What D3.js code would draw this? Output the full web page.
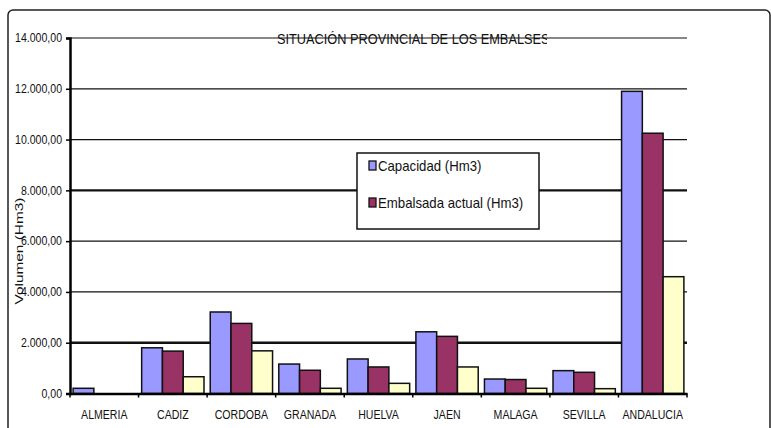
<!DOCTYPE html>
<html>
<head>
<meta charset="utf-8">
<script src="https://cdn.jsdelivr.net/npm/d3@7"></script>
<style>
  body { margin: 0; background: #fff; }
  text { font-family: "Liberation Sans", Arial, sans-serif; fill: #111; }
</style>
</head>
<body>
<script>
// data
var provincias = ["ALMERIA", "CADIZ", "CORDOBA", "GRANADA", "HUELVA", "JAEN", "MALAGA", "SEVILLA", "ANDALUCIA"];
var capacidad = [205, 1800, 3210, 1160, 1360, 2430, 570, 900, 11900];
var embalsada = [0, 1670, 2760, 915, 1045, 2250, 550, 835, 10250];
var tercera   = [0, 660, 1680, 205, 400, 1045, 205, 190, 4600];
var seriesNames = ["Capacidad (Hm3)", "Embalsada actual (Hm3)"];
var yTicks = [0, 2000, 4000, 6000, 8000, 10000, 12000, 14000];
var heavyLines = [2000, 8000]; // these gridlines look thicker in the picture

var colors = ["#9999ff", "#993366", "#ffffcc"];

var width = 771, height = 428;
var margin = {top: 38, right: 84, bottom: 34.5, left: 70};

var svg = d3.select("body").append("svg")
    .attr("width", width)
    .attr("height", height);

// squeeze text horizontally, the original picture looks condensed
function condense(sel, k) {
    sel.each(function() {
        var len = this.getComputedTextLength();
        d3.select(this)
            .attr("textLength", len * k)
            .attr("lengthAdjust", "spacingAndGlyphs");
    });
}

// chart border (runs off the bottom)
svg.append("rect")
    .attr("x", 8).attr("y", 10)
    .attr("width", 762).attr("height", 440)
    .attr("rx", 5)
    .attr("fill", "none")
    .attr("stroke", "#222")
    .attr("stroke-width", 1.5);

var x = d3.scaleBand()
    .domain(provincias)
    .range([margin.left, width - margin.right])
    .padding(0);

var y = d3.scaleLinear()
    .domain([0, 14000])
    .range([height - margin.bottom, margin.top]);

var fmt = function(v) {
    return d3.format(",.2f")(v).replace(/,/g, "X").replace(/\./g, ",").replace(/X/g, ".");
};

// gridlines
svg.append("g").selectAll("line")
    .data(yTicks.slice(1))
    .enter().append("line")
    .attr("x1", margin.left)
    .attr("x2", width - margin.right)
    .attr("y1", function(d) { return y(d); })
    .attr("y2", function(d) { return y(d); })
    .attr("stroke", "#111")
    .attr("stroke-width", function(d) { return heavyLines.indexOf(d) >= 0 ? 2.4 : 1.2; });

// title, clipped on the right like the original
svg.append("clipPath").attr("id", "titleClip")
    .append("rect").attr("x", 200).attr("y", 20).attr("width", 347).attr("height", 40);
svg.append("text")
    .attr("clip-path", "url(#titleClip)")
    .attr("x", 277).attr("y", 44)
    .style("font-size", "14.5px")
    .text("SITUACIÓN PROVINCIAL DE LOS EMBALSES")
    .call(condense, 0.88);

// bars: 3 per province, gap = 30% of a bar
var barW = x.bandwidth() / 3.3;
var off = barW * 0.15;

var allSeries = [capacidad, embalsada, tercera];
allSeries.forEach(function(vals, s) {
    svg.append("g").selectAll("rect")
        .data(vals)
        .enter().append("rect")
        .attr("x", function(d, i) { return x(provincias[i]) + off + s * barW; })
        .attr("y", function(d) { return y(d); })
        .attr("width", barW)
        .attr("height", function(d) { return y(0) - y(d); })
        .attr("fill", colors[s])
        .attr("stroke", "#111")
        .attr("stroke-width", 1.5);
});

// y axis
var yAxis = svg.append("g")
    .attr("transform", "translate(" + margin.left + ",0)")
    .call(d3.axisLeft(y).tickValues(yTicks).tickFormat(fmt).tickSize(4).tickPadding(4));
yAxis.select(".domain").attr("stroke", "#000").attr("stroke-width", 2.5);
yAxis.selectAll(".tick line").attr("stroke", "#000").attr("stroke-width", 1.5);
yAxis.selectAll(".tick text")
    .style("font-family", "'Liberation Sans', Arial, sans-serif")
    .style("font-size", "12px")
    .attr("fill", "#111")
    .call(condense, 0.88);

// x axis
var xAxis = svg.append("g")
    .attr("transform", "translate(0," + y(0) + ")")
    .call(d3.axisBottom(x).tickSize(0).tickPadding(17));
xAxis.select(".domain").attr("stroke", "#000").attr("stroke-width", 2.5);
xAxis.selectAll(".tick text")
    .style("font-family", "'Liberation Sans', Arial, sans-serif")
    .style("font-size", "12px")
    .attr("fill", "#111")
    .call(condense, 0.88);

// category separators below the axis
svg.append("g").selectAll("line")
    .data(provincias.concat(["end"]))
    .enter().append("line")
    .attr("x1", function(d, i) { return margin.left + i * x.bandwidth(); })
    .attr("x2", function(d, i) { return margin.left + i * x.bandwidth(); })
    .attr("y1", y(0))
    .attr("y2", y(0) + 4)
    .attr("stroke", "#000")
    .attr("stroke-width", 1.5);

// y axis title
svg.append("text")
    .attr("transform", "translate(23,251) rotate(-90)")
    .attr("text-anchor", "middle")
    .attr("textLength", 107)
    .attr("lengthAdjust", "spacingAndGlyphs")
    .style("font-size", "11.5px")
    .text("Volumen (Hm3)");

// legend (only two entries fit in the box)
var lg = svg.append("g").attr("transform", "translate(357,153)");
lg.append("rect")
    .attr("width", 182).attr("height", 76)
    .attr("fill", "#fff")
    .attr("stroke", "#111")
    .attr("stroke-width", 1.5);
var items = lg.selectAll("g.item")
    .data(seriesNames)
    .enter().append("g")
    .attr("class", "item")
    .attr("transform", function(d, i) { return "translate(12," + (8 + i * 37) + ")"; });
items.append("rect")
    .attr("width", 7).attr("height", 9)
    .attr("fill", function(d, i) { return colors[i]; })
    .attr("stroke", "#111")
    .attr("stroke-width", 1.3);
items.append("text")
    .attr("x", 9).attr("y", 10)
    .style("font-size", "15px")
    .text(function(d) { return d; })
    .call(condense, 0.88);
</script>
</body>
</html>
